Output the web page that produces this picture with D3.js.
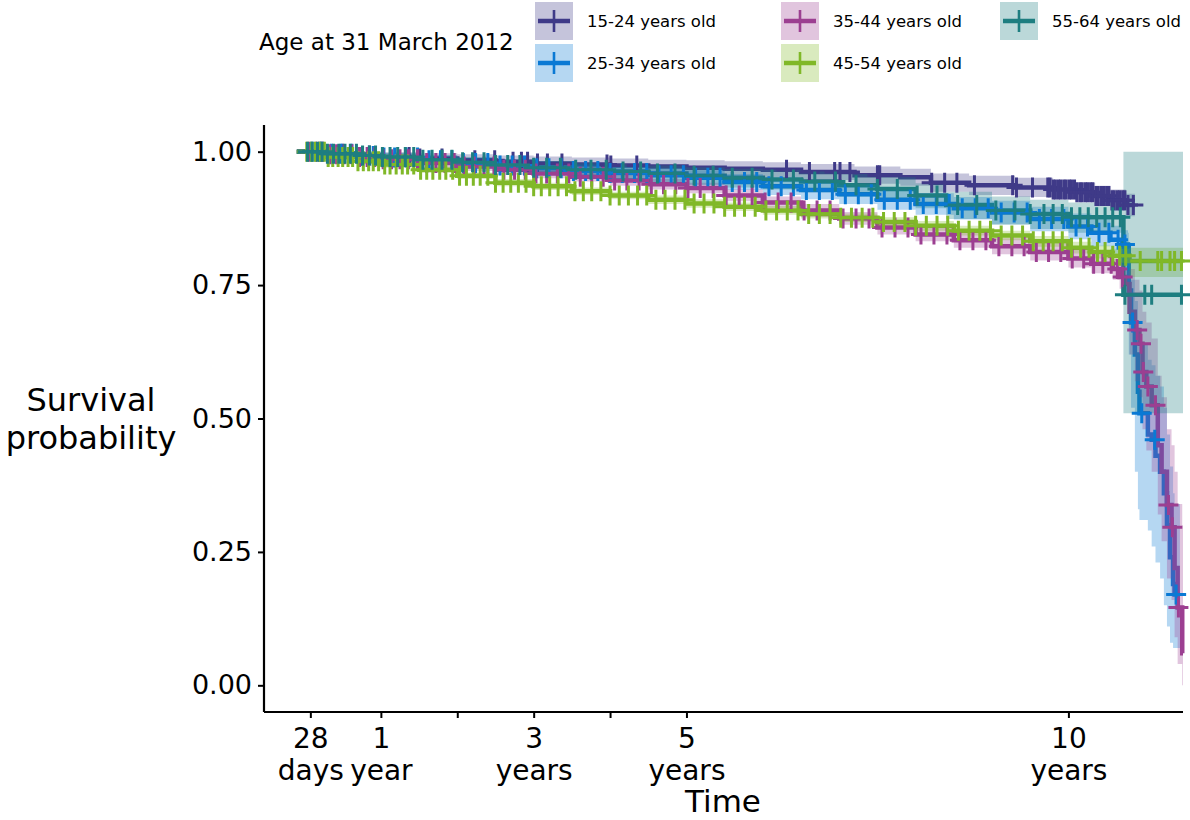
<!DOCTYPE html>
<html>
<head>
<meta charset="utf-8">
<script src="https://cdn.jsdelivr.net/npm/d3@7"></script>
<style>
  body { margin: 0; background: #fff; }
  text { font-family: "DejaVu Sans", sans-serif; fill: #000; }
</style>
</head>
<body>
<svg id="chart" width="1190" height="820"></svg>
<script>
// ---- data ----
var groups = ['15-24 years old', '25-34 years old', '35-44 years old', '45-54 years old', '55-64 years old'];
var colors = ['#3f3a88', '#0a79d4', '#9c3f91', '#80b828', '#1e7e80'];

var time1524 = [-0.1, 0.3, 0.7, 1.0, 1.5, 2.0, 2.5, 3.0, 3.5, 4.0, 4.5, 5.0, 5.5, 6.0, 6.5, 7.2, 7.8, 8.2, 8.7, 9.3, 9.8, 10.1, 10.35, 10.55, 10.75, 10.87];
var surv1524 = [1, 0.996, 0.993, 0.99, 0.987, 0.984, 0.981, 0.978, 0.976, 0.974, 0.972, 0.970, 0.968, 0.966, 0.962, 0.956, 0.952, 0.942, 0.937, 0.933, 0.929, 0.924, 0.917, 0.909, 0.90, 0.90];
var upper1524 = [1, 1, 1, 0.999, 0.997, 0.995, 0.993, 0.991, 0.989, 0.987, 0.985, 0.984, 0.982, 0.980, 0.977, 0.972, 0.968, 0.959, 0.955, 0.951, 0.947, 0.942, 0.936, 0.929, 0.921, 0.921];
var lower1524 = [1, 0.992, 0.987, 0.981, 0.977, 0.973, 0.969, 0.965, 0.963, 0.961, 0.959, 0.956, 0.954, 0.952, 0.947, 0.940, 0.936, 0.925, 0.919, 0.915, 0.911, 0.906, 0.898, 0.889, 0.879, 0.879];
var cens1524 = [0.2, 0.5, 0.85, 1.37, 1.51, 1.80, 2.23, 2.49, 2.73, 2.84, 2.92, 3.05, 3.18, 3.37, 3.96, 4.01, 4.35, 6.31, 6.61, 6.94, 7.01, 7.14, 7.50, 7.53, 8.21, 8.38, 8.54, 8.77, 9.27, 9.32, 9.53, 9.73, 9.76, 9.8, 9.83, 9.87, 9.9, 9.94, 9.97, 10.01, 10.04, 10.08, 10.11, 10.15, 10.18, 10.22, 10.25, 10.29, 10.32, 10.36, 10.39, 10.43, 10.46, 10.5, 10.53, 10.57, 10.6, 10.64, 10.67, 10.71, 10.74, 10.78, 10.85];

var time2534 = [-0.1, 0.3, 0.7, 1.0, 1.5, 2.0, 2.5, 3.0, 3.5, 4.0, 4.5, 5.0, 5.5, 6.0, 6.5, 7.0, 7.5, 8.0, 8.5, 9.0, 9.5, 10.0, 10.3, 10.55, 10.7, 10.78, 10.79, 10.82, 10.87, 10.91, 10.93, 11.04, 11.09, 11.14, 11.2, 11.25, 11.29, 11.33, 11.37, 11.39, 11.46];
var surv2534 = [1, 0.996, 0.992, 0.989, 0.984, 0.979, 0.974, 0.969, 0.964, 0.96, 0.956, 0.951, 0.943, 0.935, 0.928, 0.92, 0.91, 0.902, 0.894, 0.886, 0.874, 0.86, 0.848, 0.835, 0.826, 0.82, 0.74, 0.68, 0.62, 0.55, 0.51, 0.47, 0.46, 0.43, 0.40, 0.36, 0.30, 0.24, 0.19, 0.17, 0.17];
var upper2534 = [1, 1, 0.999, 0.997, 0.993, 0.989, 0.985, 0.981, 0.976, 0.972, 0.969, 0.965, 0.958, 0.951, 0.945, 0.938, 0.929, 0.922, 0.915, 0.908, 0.897, 0.884, 0.873, 0.861, 0.853, 0.848, 0.80, 0.76, 0.72, 0.67, 0.64, 0.61, 0.60, 0.58, 0.56, 0.52, 0.47, 0.41, 0.36, 0.34, 0.34];
var lower2534 = [1, 0.992, 0.985, 0.981, 0.975, 0.969, 0.963, 0.957, 0.952, 0.948, 0.943, 0.937, 0.928, 0.919, 0.911, 0.902, 0.891, 0.882, 0.873, 0.864, 0.851, 0.836, 0.823, 0.809, 0.799, 0.792, 0.62, 0.52, 0.40, 0.33, 0.31, 0.29, 0.26, 0.23, 0.20, 0.15, 0.11, 0.08, 0.07, 0.07, 0.07];
var cens2534 = [0.1, 0.22, 0.35, 0.48, 0.62, 0.76, 0.9, 1.04, 1.18, 1.33, 1.48, 1.63, 1.78, 1.93, 2.08, 2.24, 2.4, 2.56, 2.72, 2.88, 3.04, 3.2, 3.36, 3.52, 3.68, 3.84, 4.0, 4.16, 4.32, 4.48, 4.64, 4.8, 4.96, 5.12, 5.28, 5.44, 5.6, 5.76, 5.92, 6.08, 6.24, 6.4, 6.57, 6.74, 6.91, 7.08, 7.25, 7.42, 7.59, 7.76, 7.93, 8.1, 8.27, 8.44, 8.61, 8.78, 8.95, 9.12, 9.29, 9.46, 9.62, 9.78, 9.94, 10.1, 10.25, 10.4, 10.53, 10.65, 10.74, 10.84, 10.96, 11.13, 11.41];

var time3544 = [-0.1, 0.3, 0.7, 1.0, 1.5, 2.0, 2.5, 3.0, 3.5, 4.0, 4.5, 5.0, 5.5, 6.0, 6.5, 7.0, 7.5, 8.0, 8.5, 9.0, 9.5, 10.0, 10.3, 10.58, 10.67, 10.74, 10.8, 10.87, 10.93, 10.97, 11.02, 11.09, 11.17, 11.22, 11.29, 11.35, 11.39, 11.43, 11.49, 11.5];
var surv3544 = [1, 0.995, 0.99, 0.986, 0.979, 0.972, 0.966, 0.959, 0.953, 0.946, 0.939, 0.932, 0.918, 0.905, 0.89, 0.875, 0.858, 0.845, 0.834, 0.823, 0.812, 0.80, 0.79, 0.78, 0.765, 0.752, 0.70, 0.666, 0.64, 0.587, 0.56, 0.525, 0.45, 0.40, 0.338, 0.296, 0.22, 0.146, 0.06, 0.06];
var upper3544 = [1, 1, 0.997, 0.993, 0.987, 0.98, 0.975, 0.968, 0.962, 0.956, 0.949, 0.942, 0.929, 0.916, 0.902, 0.887, 0.871, 0.858, 0.848, 0.838, 0.828, 0.817, 0.808, 0.80, 0.787, 0.777, 0.78, 0.76, 0.74, 0.70, 0.68, 0.65, 0.58, 0.54, 0.48, 0.45, 0.40, 0.34, 0.30, 0.30];
var lower3544 = [1, 0.99, 0.983, 0.979, 0.971, 0.964, 0.957, 0.95, 0.944, 0.936, 0.929, 0.922, 0.907, 0.894, 0.878, 0.863, 0.845, 0.832, 0.82, 0.808, 0.796, 0.783, 0.772, 0.76, 0.743, 0.727, 0.62, 0.57, 0.54, 0.48, 0.44, 0.40, 0.32, 0.27, 0.20, 0.16, 0.09, 0.04, 0.0, 0.0];
var cens3544 = [0.06, 0.15, 0.24, 0.33, 0.42, 0.52, 0.62, 0.72, 0.82, 0.92, 1.03, 1.14, 1.25, 1.36, 1.48, 1.6, 1.72, 1.84, 1.96, 2.09, 2.22, 2.35, 2.48, 2.61, 2.75, 2.89, 3.03, 3.17, 3.31, 3.46, 3.61, 3.76, 3.91, 4.06, 4.22, 4.38, 4.54, 4.7, 4.86, 5.02, 5.18, 5.35, 5.52, 5.69, 5.86, 6.03, 6.2, 6.37, 6.54, 6.71, 6.88, 7.05, 7.22, 7.39, 7.56, 7.73, 7.9, 8.07, 8.24, 8.41, 8.58, 8.75, 8.92, 9.09, 9.26, 9.42, 9.58, 9.74, 9.9, 10.05, 10.2, 10.33, 10.45, 10.56, 10.64, 10.71, 10.9, 10.95, 10.98, 11.04, 11.14, 11.31, 11.36, 11.44];

var time4554 = [-0.1, 0.3, 0.7, 1.0, 1.5, 2.0, 2.5, 3.0, 3.5, 4.0, 4.5, 5.0, 5.5, 6.0, 6.5, 7.0, 7.5, 8.0, 8.5, 9.0, 9.5, 10.0, 10.3, 10.55, 10.8, 11.5];
var surv4554 = [1, 0.99, 0.982, 0.976, 0.966, 0.955, 0.942, 0.935, 0.926, 0.918, 0.91, 0.903, 0.897, 0.89, 0.883, 0.876, 0.868, 0.861, 0.852, 0.843, 0.832, 0.82, 0.812, 0.805, 0.795, 0.795];
var upper4554 = [1, 0.995, 0.988, 0.982, 0.972, 0.961, 0.949, 0.942, 0.933, 0.925, 0.918, 0.911, 0.905, 0.898, 0.891, 0.884, 0.877, 0.87, 0.861, 0.852, 0.842, 0.831, 0.824, 0.818, 0.82, 0.82];
var lower4554 = [1, 0.985, 0.976, 0.97, 0.96, 0.949, 0.935, 0.928, 0.919, 0.911, 0.902, 0.895, 0.889, 0.882, 0.875, 0.868, 0.859, 0.852, 0.843, 0.834, 0.822, 0.809, 0.80, 0.792, 0.765, 0.765];
var cens4554 = [0.03, 0.09, 0.14, 0.2, 0.26, 0.31, 0.37, 0.44, 0.5, 0.57, 0.63, 0.7, 0.77, 0.84, 0.9, 0.97, 1.05, 1.12, 1.2, 1.28, 1.35, 1.43, 1.52, 1.6, 1.68, 1.77, 1.85, 1.94, 2.03, 2.12, 2.21, 2.3, 2.4, 2.5, 2.6, 2.7, 2.8, 2.9, 3.0, 3.1, 3.21, 3.32, 3.43, 3.54, 3.65, 3.76, 3.88, 4.0, 4.12, 4.24, 4.36, 4.48, 4.6, 4.72, 4.85, 4.98, 5.1, 5.23, 5.36, 5.5, 5.63, 5.76, 5.9, 6.04, 6.18, 6.32, 6.46, 6.6, 6.74, 6.88, 7.02, 7.16, 7.3, 7.44, 7.58, 7.72, 7.86, 8.0, 8.14, 8.28, 8.42, 8.56, 8.7, 8.84, 8.98, 9.12, 9.26, 9.4, 9.54, 9.67, 9.8, 9.92, 10.04, 10.16, 10.27, 10.38, 10.48, 10.58, 10.67, 10.75, 10.94, 11.17, 11.22, 11.33, 11.39, 11.48];

var time5564 = [-0.1, 0.3, 0.7, 1.0, 1.5, 2.0, 2.5, 3.0, 3.5, 4.0, 4.5, 5.0, 5.5, 6.0, 6.5, 7.0, 7.5, 8.0, 8.4, 9.0, 9.5, 10.0, 10.72, 11.5];
var surv5564 = [1, 0.996, 0.993, 0.99, 0.985, 0.98, 0.975, 0.97, 0.966, 0.963, 0.959, 0.955, 0.951, 0.948, 0.944, 0.937, 0.93, 0.918, 0.90, 0.89, 0.883, 0.877, 0.732, 0.732];
var upper5564 = [1, 1, 1, 0.998, 0.994, 0.99, 0.986, 0.982, 0.979, 0.977, 0.974, 0.971, 0.968, 0.966, 0.963, 0.958, 0.952, 0.941, 0.925, 0.916, 0.91, 0.905, 1.0, 1.0];
var lower5564 = [1, 0.99, 0.985, 0.981, 0.975, 0.969, 0.963, 0.957, 0.952, 0.948, 0.943, 0.938, 0.933, 0.929, 0.924, 0.916, 0.908, 0.894, 0.874, 0.863, 0.855, 0.848, 0.51, 0.51];
var cens5564 = [0.04, 0.1, 0.17, 0.23, 0.3, 0.38, 0.45, 0.53, 0.6, 0.68, 0.76, 0.85, 0.93, 1.02, 1.12, 1.22, 1.32, 1.43, 1.55, 1.67, 1.8, 1.93, 2.07, 2.2, 2.35, 2.5, 2.66, 2.82, 3.0, 3.17, 3.35, 3.55, 3.75, 3.95, 4.17, 4.4, 4.62, 4.85, 5.1, 5.35, 5.6, 5.86, 6.12, 6.4, 6.68, 6.95, 7.22, 7.5, 7.76, 8.02, 8.28, 8.55, 8.8, 9.05, 9.3, 9.5, 9.68, 9.8, 9.92, 10.04, 10.15, 10.26, 10.37, 10.48, 10.58, 10.68, 10.74, 11.0, 11.09, 11.48];

var xTickValues = [28 / 365.25, 1, 2, 3, 4, 5, 10];
var xTickLabels = [['28', 'days'], ['1', 'year'], [], ['3', 'years'], [], ['5', 'years'], ['10', 'years']];
var yTickValues = [0, 0.25, 0.5, 0.75, 1];

// ---- layout ----
var config = {
  left: 264, right: 1183, top: 125, bottom: 712,
  lineWidth: 4.5, censorSize: 10, censorWidth: 3, bandAlpha: 0.3
};

var series = [
  { time: time1524, surv: surv1524, upper: upper1524, lower: lower1524, cens: cens1524 },
  { time: time2534, surv: surv2534, upper: upper2534, lower: lower2534, cens: cens2534 },
  { time: time3544, surv: surv3544, upper: upper3544, lower: lower3544, cens: cens3544 },
  { time: time4554, surv: surv4554, upper: upper4554, lower: lower4554, cens: cens4554 },
  { time: time5564, surv: surv5564, upper: upper5564, lower: lower5564, cens: cens5564 }
];

var svg = d3.select('#chart');
var x = d3.scaleLinear().domain([-0.53, 11.5]).range([config.left, config.right]);
var y = d3.scaleLinear().domain([-0.05, 1.05]).range([config.bottom, config.top]);

// step value at time t
function survAt(s, t) {
  var i = d3.bisectRight(s.time, t) - 1;
  return s.surv[Math.max(0, i)];
}

var line = d3.line()
  .x(function(d) { return x(d[0]); })
  .y(function(d) { return y(d[1]); })
  .curve(d3.curveStepAfter);

var area = d3.area()
  .x(function(d) { return x(d[0]); })
  .y0(function(d) { return y(d[1]); })
  .y1(function(d) { return y(d[2]); })
  .curve(d3.curveStepAfter);

var plot = svg.append('g');

// curves
series.forEach(function(s, k) {
  plot.append('path')
    .attr('d', line(s.time.map(function(t, i) { return [t, s.surv[i]]; })))
    .attr('fill', 'none')
    .attr('stroke', colors[k])
    .attr('stroke-width', config.lineWidth);
});

// confidence bands
series.forEach(function(s, k) {
  plot.append('path')
    .attr('d', area(s.time.map(function(t, i) { return [t, s.lower[i], s.upper[i]]; })))
    .attr('fill', colors[k])
    .attr('fill-opacity', config.bandAlpha)
    .attr('stroke', 'none');
});

// censor marks
series.forEach(function(s, k) {
  var c = config.censorSize;
  plot.append('g').selectAll('path').data(s.cens).enter().append('path')
    .attr('d', function(t) {
      var cx = x(t), cy = y(survAt(s, t));
      return 'M' + (cx - c) + ',' + cy + 'H' + (cx + c) + 'M' + cx + ',' + (cy - c) + 'V' + (cy + c);
    })
    .attr('stroke', colors[k])
    .attr('stroke-width', config.censorWidth)
    .attr('fill', 'none');
});

// axes
var xAxis = svg.append('g')
  .attr('transform', 'translate(0,' + config.bottom + ')')
  .call(d3.axisBottom(x).tickValues(xTickValues).tickSize(6).tickSizeOuter(0).tickFormat(''));
xAxis.select('.domain').attr('stroke-width', 2.2).attr('d', 'M' + config.left + ',0H' + config.right);
xAxis.selectAll('.tick line').attr('stroke-width', 2);
xAxis.selectAll('.tick').each(function(d, i) {
  var g = d3.select(this);
  xTickLabels[i].forEach(function(txt, j) {
    g.append('text')
      .attr('y', 36 + j * 32)
      .attr('text-anchor', 'middle')
      .attr('font-size', 28)
      .attr('fill', '#000')
      .text(txt);
  });
});

var yAxis = svg.append('g')
  .attr('transform', 'translate(' + config.left + ',0)')
  .call(d3.axisLeft(y).tickValues(yTickValues).tickSize(6).tickSizeOuter(0).tickFormat(d3.format('.2f')));
yAxis.select('.domain').attr('stroke-width', 2.2).attr('d', 'M0,' + config.top + 'V' + config.bottom);
yAxis.selectAll('.tick line').attr('stroke-width', 2);
yAxis.selectAll('.tick text')
  .attr('x', -12)
  .attr('font-size', 27)
  .attr('font-family', 'DejaVu Sans')
  .attr('fill', '#000');

// axis titles
svg.append('text')
  .attr('x', 723).attr('y', 812)
  .attr('text-anchor', 'middle').attr('font-size', 31)
  .text('Time');

svg.append('text')
  .attr('x', 91).attr('y', 411)
  .attr('text-anchor', 'middle').attr('font-size', 32)
  .text('Survival');
svg.append('text')
  .attr('x', 91).attr('y', 449)
  .attr('text-anchor', 'middle').attr('font-size', 32)
  .text('probability');

// legend
var legend = svg.append('g');
legend.append('text')
  .attr('x', 259).attr('y', 50).attr('font-size', 23)
  .text('Age at 31 March 2012');

var keyPos = [[535, 2], [535, 44], [781, 2], [781, 44], [1000, 2]];
groups.forEach(function(name, k) {
  var g = legend.append('g').attr('transform', 'translate(' + keyPos[k][0] + ',' + keyPos[k][1] + ')');
  g.append('rect').attr('width', 38).attr('height', 38)
    .attr('fill', colors[k]).attr('fill-opacity', config.bandAlpha);
  g.append('line').attr('x1', 3).attr('x2', 35).attr('y1', 19).attr('y2', 19)
    .attr('stroke', colors[k]).attr('stroke-width', 4.5);
  g.append('line').attr('x1', 19).attr('x2', 19).attr('y1', 8).attr('y2', 30)
    .attr('stroke', colors[k]).attr('stroke-width', 2.6);
  g.append('text')
    .attr('x', 52).attr('y', 25).attr('font-size', 16.5)
    .text(name);
});
</script>
</body>
</html>
